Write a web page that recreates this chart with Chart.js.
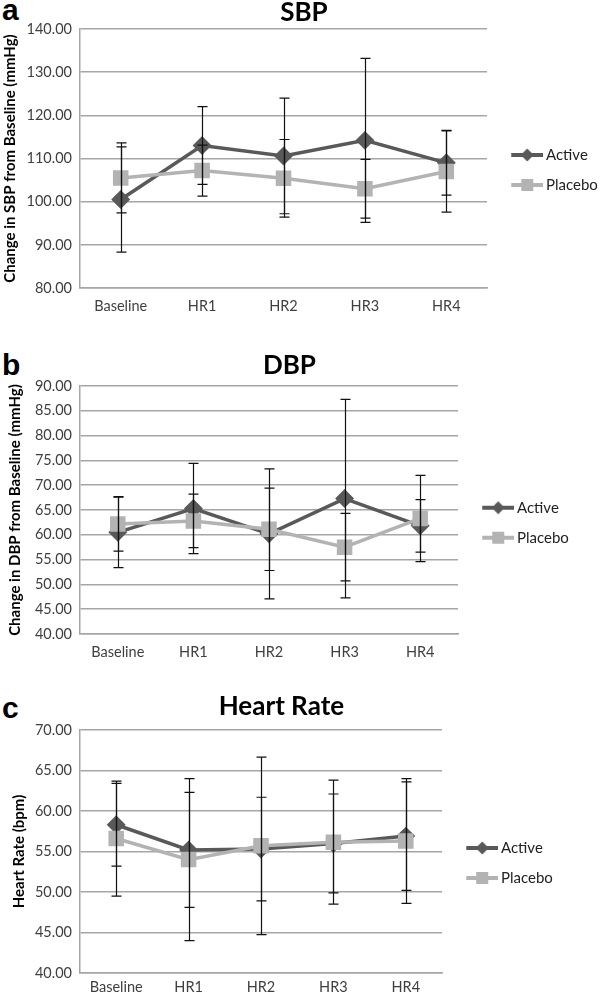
<!DOCTYPE html>
<html lang="en">
<head>
<meta charset="utf-8">
<script src="https://cdn.jsdelivr.net/npm/chart.js@4.4.1/dist/chart.umd.min.js"></script>
<title>SBP, DBP and Heart Rate</title>
<style>
  html, body { margin: 0; padding: 0; background: #fff; width: 600px; height: 994px; overflow: hidden; position: relative; }
  canvas { position: absolute; left: 0; }
  .tag { position: absolute; left: 2px; font: bold 30px "Liberation Sans", Arial, sans-serif; line-height: 30px; color: #000; }
</style>
</head>
<body>
<div class="tag" style="top:-5px">a</div>
<div class="tag" style="top:350px">b</div>
<div class="tag" style="top:693px">c</div>
<canvas id="sbpChart" width="640" height="320" style="top:0"></canvas>
<canvas id="dbpChart" width="640" height="326" style="top:340px"></canvas>
<canvas id="hrChart" width="640" height="314" style="top:680px"></canvas>
<script>
    const timepoints = ["Baseline", "HR1", "HR2", "HR3", "HR4"];
    const seriesNames = ["Active", "Placebo"];

    // SBP (mmHg)
    const sbpActive = [100.5, 113.0, 110.6, 114.2, 109.0];
    const sbpActiveErr = [12.2, 9.0, 13.4, 19.0, 7.5];
    const sbpPlacebo = [105.5, 107.2, 105.4, 103.0, 107.0];
    const sbpPlaceboErr = [8.1, 5.9, 9.0, 6.8, 9.4];
    const sbpTicks = [80, 90, 100, 110, 120, 130, 140];

    // DBP (mmHg)
    const dbpActive = [60.5, 65.3, 60.2, 67.3, 61.8];
    const dbpActiveErr = [7.1, 9.1, 13.1, 20.0, 5.3];
    const dbpPlacebo = [62.2, 62.8, 61.1, 57.5, 63.3];
    const dbpPlaceboErr = [5.5, 5.4, 8.3, 6.8, 8.7];
    const dbpTicks = [40, 45, 50, 55, 60, 65, 70, 75, 80, 85, 90];

    // Heart rate (bpm)
    const hrActive = [58.3, 55.2, 55.3, 56.0, 56.9];
    const hrActiveErr = [5.1, 7.1, 6.4, 6.1, 6.7];
    const hrPlacebo = [56.6, 54.0, 55.7, 56.15, 56.3];
    const hrPlaceboErr = [7.1, 10.0, 10.95, 7.65, 7.7];
    const hrTicks = [40, 45, 50, 55, 60, 65, 70];

    const activeColor = "#595959";
    const placeboColor = "#b3b3b3";
    const textColor = "#3f3f3f";
    const gridColor = "#a6a6a6";
    const font = "Lato, 'Open Sans', sans-serif";
    const legendFontSize = 15;

    // whiskers (mean +/- error) drawn through the chart's scales
    const errorBars = {
        id: "errorBars",
        afterDatasetsDraw(chart) {
            const {ctx, scales: {x, y}} = chart;
            ctx.save();
            ctx.strokeStyle = "#111";
            ctx.lineWidth = 1.2;
            chart.data.datasets.forEach((ds) => {
                ds.data.forEach((v, i) => {
                    const e = ds.errors[i];
                    const px = Math.round(x.getPixelForValue(i)) + 0.5;
                    const top = y.getPixelForValue(v + e);
                    const bot = y.getPixelForValue(v - e);
                    ctx.beginPath();
                    ctx.moveTo(px, top); ctx.lineTo(px, bot);
                    ctx.moveTo(px - 5, top); ctx.lineTo(px + 5, top);
                    ctx.moveTo(px - 5, bot); ctx.lineTo(px + 5, bot);
                    ctx.stroke();
                });
            });
            ctx.restore();
        }
    };

    // Excel-like legend key: a short line with the marker in its middle
    function legendIcon(color, shape) {
        const c = document.createElement("canvas");
        c.width = 46; c.height = 16;
        const g = c.getContext("2d");
        g.strokeStyle = color; g.lineWidth = 4;
        g.beginPath(); g.moveTo(14, 8); g.lineTo(46, 8); g.stroke();
        g.fillStyle = color;
        if (shape === "diamond") {
            g.beginPath(); g.moveTo(30, 1.5); g.lineTo(36.5, 8); g.lineTo(30, 14.5); g.lineTo(23.5, 8); g.closePath(); g.fill();
        } else {
            g.fillRect(24, 2, 12, 12);
        }
        return c;
    }
    const icons = [legendIcon(activeColor, "diamond"), legendIcon(placeboColor, "square")];

    // natural width of the right-hand legend, so the plot area can end where the original does
    const measure = document.createElement("canvas").getContext("2d");
    measure.font = legendFontSize + "px " + font;
    const legendWidth = 15 + 36.5 + legendFontSize / 2 + Math.max(...seriesNames.map((s) => measure.measureText(s).width)) + 10;

    function makeChart(id, title, yTitle, ticks, active, activeErr, placebo, placeboErr, lay) {
        const canvas = document.getElementById(id);
        return new Chart(canvas, {
            type: "line",
            data: {
                labels: timepoints,
                datasets: [{
                    label: seriesNames[0],
                    data: active,
                    errors: activeErr,
                    borderColor: activeColor,
                    backgroundColor: activeColor,
                    borderWidth: 3.5,
                    pointStyle: "rectRot",
                    pointRadius: 7,
                    order: 1
                }, {
                    label: seriesNames[1],
                    data: placebo,
                    errors: placeboErr,
                    borderColor: placeboColor,
                    backgroundColor: placeboColor,
                    borderWidth: 3.5,
                    pointStyle: "rect",
                    pointRadius: 8.5,
                    order: 0
                }]
            },
            options: {
                responsive: false,
                animation: false,
                layout: {padding: {left: 0, right: canvas.width - lay.plotRight - legendWidth, top: 0, bottom: 0}},
                plugins: {
                    tooltip: {enabled: false},
                    title: {
                        display: true,
                        text: title,
                        color: "#000",
                        font: {family: font, size: 26, weight: "bold", lineHeight: 1},
                        padding: {top: lay.titleTop, bottom: lay.titleBottom}
                    },
                    legend: {
                        position: "right",
                        align: "start",
                        title: {display: true, text: "", font: {size: 1, lineHeight: 1}, padding: {top: lay.legendTop - 1, bottom: 0}},
                        labels: {
                            usePointStyle: true,
                            pointStyleWidth: 36.5,
                            padding: 15,
                            color: "#222",
                            font: {family: font, size: legendFontSize},
                            sort: (a, b) => a.datasetIndex - b.datasetIndex,
                            generateLabels: (chart) => {
                                const items = Chart.defaults.plugins.legend.labels.generateLabels(chart);
                                items.forEach((it) => { it.pointStyle = icons[it.datasetIndex]; });
                                return items;
                            }
                        }
                    }
                },
                scales: {
                    x: {
                        offset: true,
                        grid: {display: false, drawTicks: false},
                        border: {display: true, color: gridColor, width: 1.5},
                        ticks: {color: textColor, font: {family: font, size: 14.5}, padding: lay.xPad, maxRotation: 0, autoSkip: false},
                        afterFit: (s) => { s.height = lay.xHeight; }
                    },
                    y: {
                        min: ticks[0],
                        max: ticks[ticks.length - 1],
                        grid: {color: gridColor, lineWidth: 1.5, drawTicks: false},
                        border: {display: true, color: gridColor, width: 1.5},
                        ticks: {
                            stepSize: ticks[1] - ticks[0],
                            color: textColor,
                            padding: 8,
                            font: {family: font, size: 14.5},
                            callback: (v) => v.toFixed(2)
                        },
                        title: {
                            display: true,
                            text: yTitle,
                            color: "#000",
                            font: {family: font, size: 15, weight: "bold"},
                            padding: {top: lay.yTitlePad, bottom: 0}
                        },
                        afterFit: (s) => { s.width = 80; }
                    }
                }
            },
            plugins: [errorBars]
        });
    }

    makeChart("sbpChart", "SBP", "Change in SBP from Baseline (mmHg)", sbpTicks,
        sbpActive, sbpActiveErr, sbpPlacebo, sbpPlaceboErr,
        {plotRight: 487, titleTop: 0, titleBottom: 3, xHeight: 32, xPad: 10, yTitlePad: 1, legendTop: 132.5});
    makeChart("dbpChart", "DBP", "Change in DBP from Baseline (mmHg)", dbpTicks,
        dbpActive, dbpActiveErr, dbpPlacebo, dbpPlaceboErr,
        {plotRight: 458, titleTop: 13, titleBottom: 7, xHeight: 32, xPad: 10, yTitlePad: 6, legendTop: 145.2});
    makeChart("hrChart", "Heart Rate", "Heart Rate (bpm)", hrTicks,
        hrActive, hrActiveErr, hrPlacebo, hrPlaceboErr,
        {plotRight: 442, titleTop: 14, titleBottom: 10, xHeight: 21, xPad: 6, yTitlePad: 10, legendTop: 145.5});
</script>
</body>
</html>
